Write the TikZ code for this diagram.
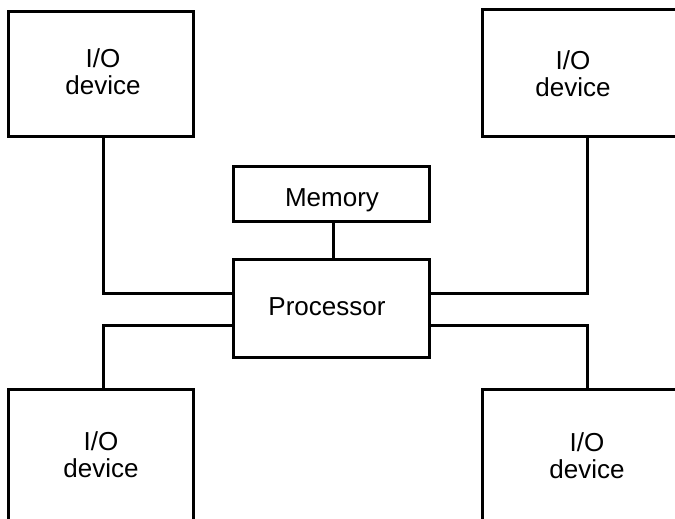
\documentclass[tikz,border=0pt]{standalone}
\usepackage{fontspec}
\setmainfont{Liberation Sans}
\begin{document}
\begin{tikzpicture}[x=1pt,y=-1pt,
  box/.style={draw,line width=3pt,inner sep=0pt,outer sep=0pt},
  lbl/.style={inner sep=0pt,align=center,font=\fontsize{26}{27}\selectfont},
  wire/.style={line width=3pt}]
\useasboundingbox (0,0) rectangle (675,519);
\clip (0,0) rectangle (675,519);
\fill[white] (0,0) rectangle (675,519);
% boxes
\node[box,minimum width=185pt,minimum height=124pt] (tl) at (100.5,74) {};
\node[box,minimum width=210pt,minimum height=126pt] (tr) at (587,73) {};
\node[box,minimum width=196pt,minimum height=55pt] (mem) at (331,193.5) {};
\node[box,minimum width=196pt,minimum height=98pt] (pr) at (331,308) {};
\node[box,minimum width=185pt,minimum height=171pt] (bl) at (100.5,474.5) {};
\node[box,minimum width=210pt,minimum height=171pt] (br) at (587,474.5) {};
% connectors
\draw[wire] ([xshift=2.5pt]tl.south) |- ([yshift=15pt]pr.west);
\draw[wire] (tr.south) |- ([yshift=15pt]pr.east);
\draw[wire] ([xshift=2.5pt]bl.north) |- ([yshift=-17pt]pr.west);
\draw[wire] (br.north) |- ([yshift=-17pt]pr.east);
\draw[wire] ([xshift=2pt]mem.south) -- ([xshift=2pt]pr.north);
% labels
\node[lbl] (tlt) at (103,72) {I/O\\device};
\node[lbl] (trt) at (573,74) {I/O\\device};
\node[lbl] (blt) at (101,455) {I/O\\device};
\node[lbl] (brt) at (587,456) {I/O\\device};
\node[lbl] (memt) at (332,200) {Memory};
\node[lbl] (prt) at (327,307) {Processor};
\end{tikzpicture}
\end{document}
